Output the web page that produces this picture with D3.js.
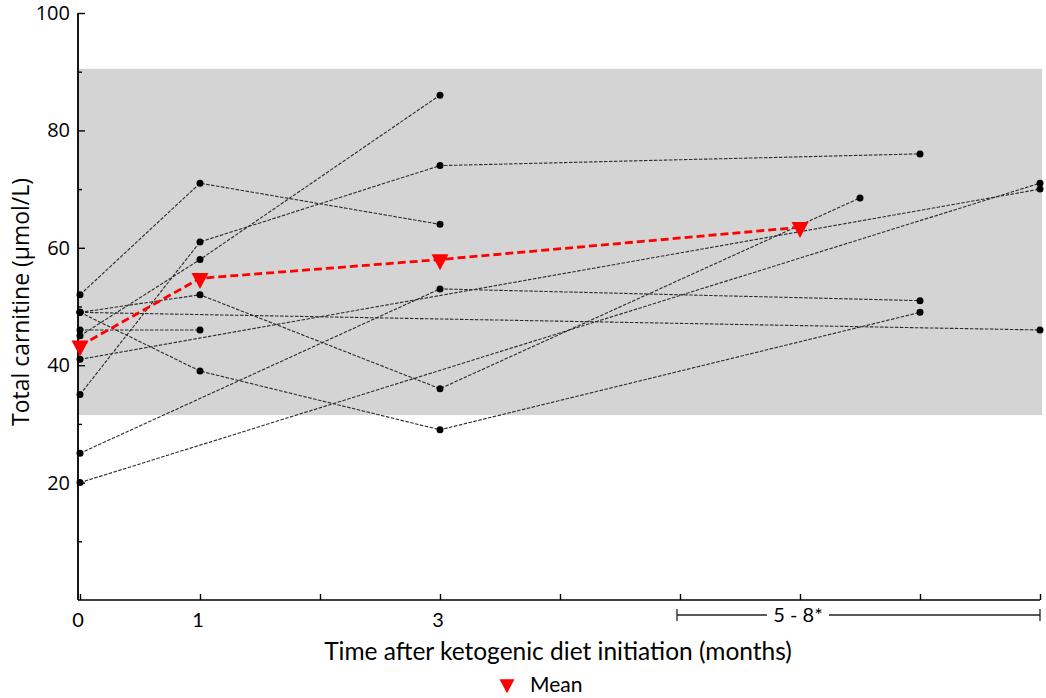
<!DOCTYPE html>
<html>
<head>
<meta charset="utf-8">
<script src="https://cdn.jsdelivr.net/npm/d3@7"></script>
<style>
  html, body { margin: 0; padding: 0; background: #fff; }
  svg { display: block; }
</style>
</head>
<body>
<svg id="chart" width="1046" height="698"></svg>
<script>
// ---- data ----
const patient1  = [[0, 52], [1, 71], [3, 64]];
const patient2  = [[0, 35], [1, 61], [3, 74], [7, 76]];
const patient3  = [[0, 45], [1, 58], [3, 86]];
const patient4  = [[0, 49], [1, 52], [3, 36], [6.5, 68.5]];
const patient5  = [[0, 46], [1, 46]];
const patient6  = [[0, 49], [1, 39], [3, 29], [7, 49]];
const patient7  = [[0, 25], [3, 53], [7, 51]];
const patient8  = [[0, 41], [8, 70]];
const patient9  = [[0, 20], [8, 71]];
const patient10 = [[0, 49], [8, 46]];
const patients = [patient1, patient2, patient3, patient4, patient5,
                  patient6, patient7, patient8, patient9, patient10];

const meanMonths = [0, 1, 3, 6];
const meanValues = [43.3, 54.8, 58.0, 63.5];

const referenceRange = [31.5, 90.5];

const xTicks = [0, 1, 2, 3, 4, 5, 6, 7, 8];
const xTickLabels = ["0", "1", "", "3", "", "", "", "", ""];
const yMajorTicks = [20, 40, 60, 80, 100];
const yMinorTicks = [10, 30, 50, 70, 90];
const bracketRange = [5, 8];
const bracketLabel = "5 - 8*";
const xTitle = "Time after ketogenic diet initiation (months)";
const yTitle = "Total carnitine (\u03bcmol/L)";
const legendLabel = "Mean";

// ---- layout ----
const narrowFont = "Lato, 'Open Sans', sans-serif";
const wideFont = "'Open Sans', 'DejaVu Sans', sans-serif";
const svg = d3.select("#chart");
const x = d3.scaleLinear().domain([0, 8]).range([80, 1040]);
const y = d3.scaleLinear().domain([0, 100]).range([600, 13]);

// reference band
svg.append("rect")
  .attr("x", 78).attr("width", x(8) + 2 - 78)
  .attr("y", y(referenceRange[1])).attr("height", y(referenceRange[0]) - y(referenceRange[1]))
  .attr("fill", "#d4d4d4");

// axes
const axisX0 = 78;
const yAxisG = svg.append("g").attr("transform", `translate(${axisX0},0)`);
yAxisG.call(d3.axisRight(y).tickValues(yMajorTicks).tickSize(7).tickFormat(""));
yAxisG.append("g").call(d3.axisRight(y).tickValues(yMinorTicks).tickSize(4).tickFormat(""));
yAxisG.selectAll(".domain").attr("d", `M0,${y(100)}V${y(0)}`);
yAxisG.selectAll("path, line").attr("stroke", "#000").attr("stroke-width", 1.4);

svg.append("g").selectAll("text").data(yMajorTicks).join("text")
  .attr("x", 70).attr("y", d => y(d)).attr("dy", "0.35em")
  .attr("text-anchor", "end")
  .attr("font-family", wideFont)
  .attr("font-size", 20).attr("fill", "#000")
  .text(d => d);

const xAxisG = svg.append("g").attr("transform", `translate(0,${y(0)})`);
xAxisG.call(d3.axisTop(x).tickValues(xTicks).tickSize(6).tickFormat(""));
xAxisG.selectAll(".domain").attr("d", `M${axisX0},0H${x(8)}`);
xAxisG.selectAll("path, line").attr("stroke", "#000").attr("stroke-width", 1.4);

svg.append("g").selectAll("text").data(xTicks).join("text")
  .attr("x", d => x(d) - 2).attr("y", 627)
  .attr("text-anchor", "middle")
  .attr("font-family", narrowFont)
  .attr("font-size", 20).attr("fill", "#000")
  .text((d, i) => xTickLabels[i]);

// bracket 5 - 8*
const bY = 615;
const bG = svg.append("g").attr("stroke", "#222").attr("stroke-width", 1.3);
bG.append("line").attr("x1", x(bracketRange[0]) - 3).attr("x2", 767).attr("y1", bY).attr("y2", bY);
bG.append("line").attr("x1", 829).attr("x2", x(bracketRange[1])).attr("y1", bY).attr("y2", bY);
bG.append("line").attr("x1", x(bracketRange[0]) - 3).attr("x2", x(bracketRange[0]) - 3).attr("y1", bY - 6).attr("y2", bY + 6);
bG.append("line").attr("x1", x(bracketRange[1])).attr("x2", x(bracketRange[1])).attr("y1", bY - 6).attr("y2", bY + 6);
svg.append("text").attr("x", 798).attr("y", 622).attr("text-anchor", "middle")
  .attr("font-family", narrowFont)
  .attr("font-size", 20).attr("fill", "#000").text(bracketLabel);

// titles (x title sized to the reference width)
const xt = svg.append("text").attr("x", 558).attr("y", 660).attr("text-anchor", "middle")
  .attr("font-family", narrowFont)
  .attr("font-size", 20).attr("fill", "#000").text(xTitle);
const w20 = xt.node().getComputedTextLength();
xt.attr("font-size", 20 * 468 / w20);

const yt = svg.append("text").attr("transform", "translate(29,302) rotate(-90)")
  .attr("text-anchor", "middle")
  .attr("font-family", wideFont)
  .attr("font-size", 20).attr("fill", "#000").text(yTitle);
const wy = yt.node().getComputedTextLength();
yt.attr("font-size", 20 * 248 / wy);

// patient lines
const line = d3.line().x(d => x(d[0])).y(d => y(d[1]));
svg.append("g").selectAll("path").data(patients).join("path")
  .attr("d", line)
  .attr("fill", "none").attr("stroke", "#2a2a2a").attr("stroke-width", 1.1)
  .attr("stroke-dasharray", "3.5,1.5");

svg.append("g").selectAll("circle").data(patients.flat()).join("circle")
  .attr("cx", d => x(d[0])).attr("cy", d => y(d[1])).attr("r", 3.5)
  .attr("fill", "#000");

// mean
const meanData = meanMonths.map((m, i) => [m, meanValues[i]]);
svg.append("path").datum(meanData).attr("d", line)
  .attr("fill", "none").attr("stroke", "#ff0000").attr("stroke-width", 2.8)
  .attr("stroke-dasharray", "8,4");

const tri = (cx, cy, w, h) => `M${cx - w / 2},${cy - h / 3}L${cx + w / 2},${cy - h / 3}L${cx},${cy + 2 * h / 3}Z`;
svg.append("g").selectAll("path").data(meanData).join("path")
  .attr("d", d => tri(x(d[0]), y(d[1]), 17, 16))
  .attr("fill", "#ff0000");

// legend
svg.append("path").attr("d", tri(507, 684, 15, 14)).attr("fill", "#ff0000");
svg.append("text").attr("x", 530).attr("y", 692)
  .attr("font-family", narrowFont)
  .attr("font-size", 21).attr("fill", "#000").text(legendLabel);
</script>
</body>
</html>
